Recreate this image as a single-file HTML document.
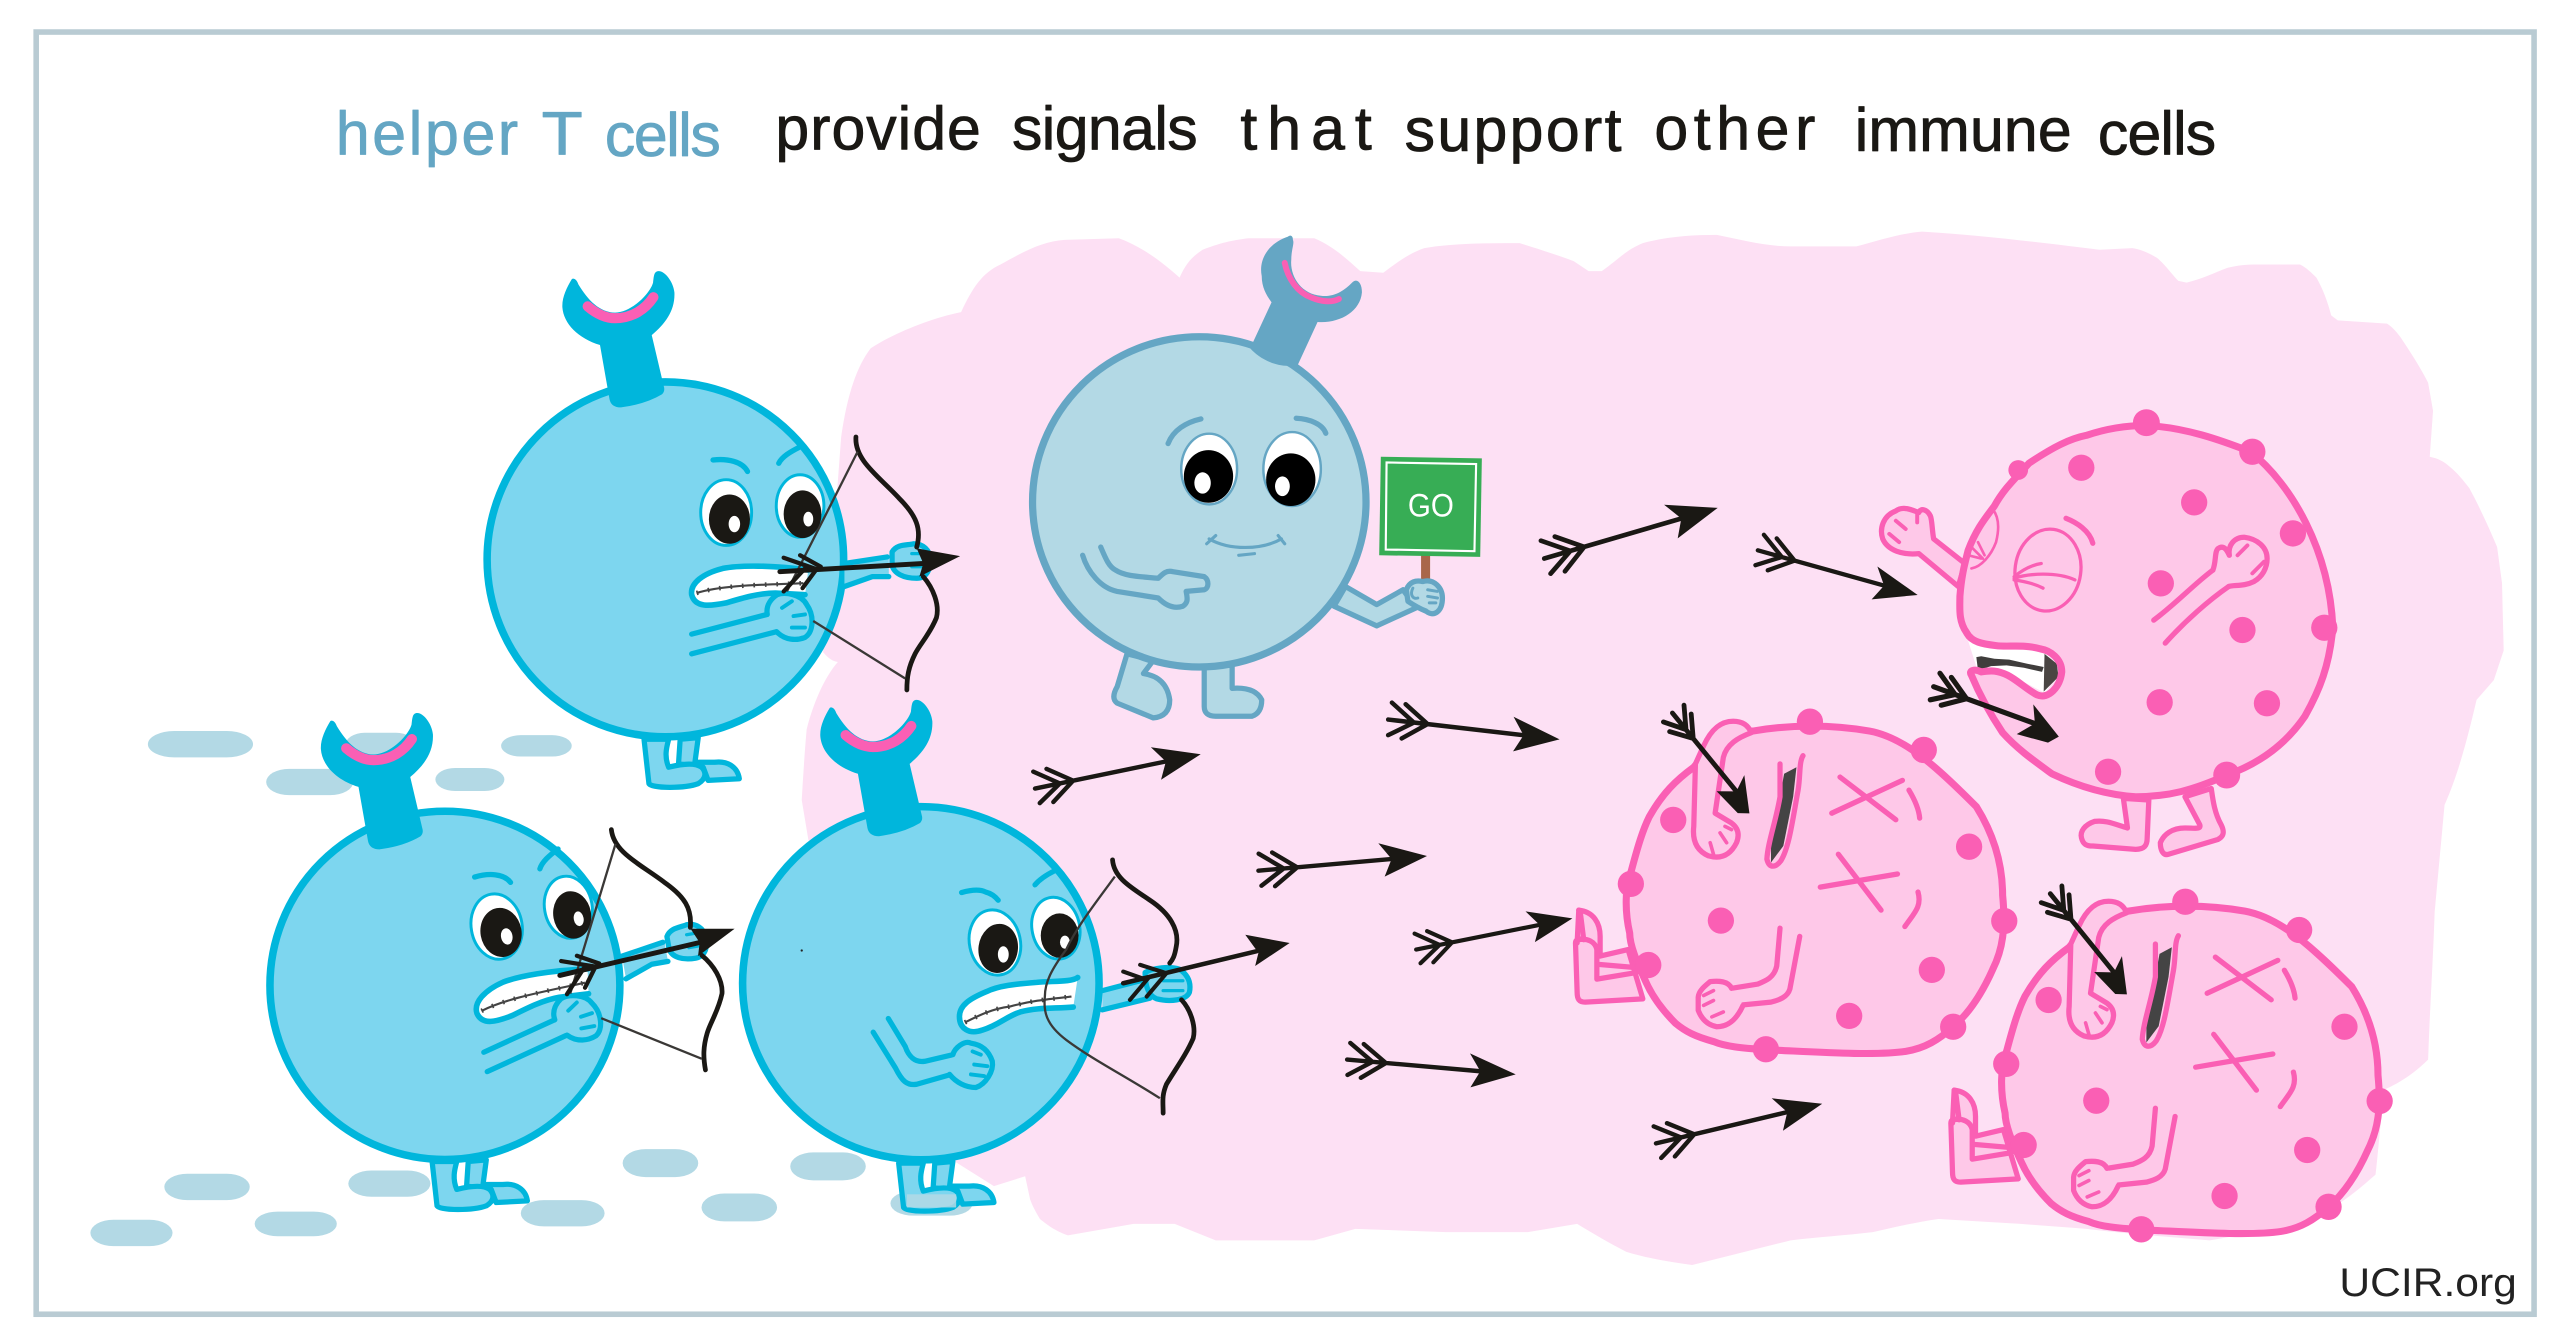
<!DOCTYPE html>
<html><head><meta charset="utf-8"><title>helper T cells</title>
<style>html,body{margin:0;padding:0;background:#fff;width:2576px;height:1337px;overflow:hidden}svg{display:block}
text{font-family:"Liberation Sans",sans-serif}
.t{font-size:37px;stroke-width:.5;stroke-linejoin:round}
.b{fill:#64a6c4;stroke:#64a6c4}.k{fill:#1a1814;stroke:#1a1814}
.c{fill:none;stroke:#00b6dc;stroke-width:3.2;stroke-linecap:round;stroke-linejoin:round}
.cf{fill:#7dd6ef;stroke:#00b6dc;stroke-width:3.2;stroke-linejoin:round;stroke-linecap:round}
.g{fill:none;stroke:#65a6c4;stroke-width:3.2;stroke-linecap:round;stroke-linejoin:round}
.gf{fill:#b3d9e5;stroke:#65a6c4;stroke-width:3.2;stroke-linejoin:round;stroke-linecap:round}
.p{fill:none;stroke:#fa5fb4;stroke-width:3.2;stroke-linecap:round;stroke-linejoin:round}
.pf{fill:#fec8e8;stroke:#fa5fb4;stroke-width:3.2;stroke-linejoin:round;stroke-linecap:round}
.pb{fill:#fec8e8;stroke:#fa5fb4;stroke-width:4.3;stroke-linejoin:round}
.bow{fill:none;stroke:#1a1814;stroke-width:2.9;stroke-linecap:round}
.str{fill:none;stroke:#3a3836;stroke-width:1.4}
.ar{fill:none;stroke:#1a1814;stroke-linecap:round}
.gm{fill:#b3d9e5}
</style></head><body>
<svg xmlns="http://www.w3.org/2000/svg" width="2576" height="1337" viewBox="0 0 1568 813.85">
<defs>
<g id="arrow">
<path class="ar" stroke-width="2.6" d="M0,0 L84,0 M1,-10 L15,0 L1,9 M9,-10 L23,0 L9,10"/>
<path fill="#1a1814" d="M100,0 L72,-10 L79,0 L74,10 Z"/>
</g>
<g id="arrow2">
<path class="ar" stroke-width="3.8" d="M0,0 L84,0 M1,-11 L17,0 L1,10 M10,-11 L26,0 L10,11"/>
<path fill="#1a1814" d="M100,3 L94,10 L70,12 L80,0 L74,-13 Z"/>
</g>
<g id="wrench">
<path fill="#00b6dc" d="M348,170 C345,175 342,181 342.300,187 C343,197 352,206 365.200,210 L371,243 Q372,248 378,248 Q393,246 403,240 Q405,238 404,235 L396.700,204 C405,197 411,189 410.500,178 C410,172 405,165 401,165 C398,165 398,168 397.500,172 C396,178 385,190 374.400,190.300 C365,190 358,183 352,173 C351,170 349,169 348,170 Z"/>
<path d="M357.700,186.500 C363,191 369,193.700 374.400,193.700 C385,193.700 393,188 397.700,180.900" fill="none" stroke="#fa5fb4" stroke-width="6.200" stroke-linecap="round"/>
</g>
<g id="legs">
<path class="cf" d="M569,708 L568,723 L583,725 L586,733 L605,732 C604,725 598,721 590,722 L578,722 L580,707 Z"/>
<path class="cf" d="M547,708 L550,735 C552,738 572,738 580,735 C585,732 585,728 582,725 C578,722 570,723 562,725 C559,718 561,712 562,708 Z"/>
</g>
<g id="face">
<path fill="#7dd6ef" d="M514,343 L541,338 L541,351 L531,351 L514,357 Z"/>
<path class="c" d="M514,343 L540,339 M514,357 L531,351 L541,351"/>
<path class="cf" d="M543,336 C546,331 552,332 556,331 C562,331 566,335 566,340 C567,346 564,352 558,352 C550,352 544,349 543,344 Z"/>
<path class="c" stroke-width="2" style="stroke-width:2" d="M555,337 h9 M555,345 h9"/>
<path class="c" d="M434,280 C443,279 452,281 455,287 M474,282 C476,278 481,275 487,272"/>
<ellipse cx="442" cy="312" rx="15.500" ry="20" fill="#fff" stroke="#00b6dc" stroke-width="1.800"/>
<ellipse cx="444" cy="316" rx="12.500" ry="15" fill="#1a1814"/>
<ellipse cx="447" cy="319" rx="3.500" ry="5" fill="#fff"/>
<ellipse cx="487" cy="308" rx="14.500" ry="19" fill="#fff" stroke="#00b6dc" stroke-width="1.800"/>
<ellipse cx="488.500" cy="313" rx="11.500" ry="14.500" fill="#1a1814"/>
<ellipse cx="492" cy="316" rx="3" ry="4.500" fill="#fff"/>
<path d="M492,347 C470,344 450,344 440,346 C428,349 420,355 421,362 C423,370 432,369 442,367 C452,364 462,361 472,361 L490,362" fill="#fff" stroke="#00b6dc" stroke-width="3.400" stroke-linecap="round"/>
<path d="M424,361 C440,356 465,356 489,355" fill="none" stroke="#444" stroke-width="1.300"/>
<path d="M424,361 C440,356 465,356 489,355" fill="none" stroke="#444" stroke-width="2.800" stroke-dasharray="1 6"/>
<path class="c" d="M421,386 L467,374 M421,398 L472.700,384.500"/>
<path class="cf" d="M467,374 C466,368 470,364 473,362 C478,360 488,362 491,368 C496,375 495,385 490,388 C485,390 478,390 472.700,384.500"/>
<path class="c" style="stroke-width:2.400" d="M476,370 l6,-4 M483,375 l7,-1 M482,382 l8,0"/>
<path class="bow" d="M521,266 C520,280 535,290 547,303 C558,314 561,322 558,333 M562,351 C568,358 572,368 570,376 C566,386 560,392 557,398 C553,406 552,412 552,420"/>
<path class="str" d="M522,275 L479,360 M495,378 L551,413"/>
<path class="ar" stroke-width="3" d="M474.700,348 L562,343"/>
<path fill="#1a1814" d="M584.400,338.500 L558,333.800 L562,343 L559.600,351 Z"/>
<path class="ar" stroke-width="2.600" d="M477,339.500 L497,346.500 L488.500,358 M487,338 L499.600,345 M490,346 L477,360"/>
</g>
<g id="deadcell">
<path class="pf" d="M961,554 C970,555 974,562 974,570 L974,582 L991,578 L1000,608 L965,610 C961,610 960,608 960,604 L959,574 C959,572 961,571 964,572 L962,556 Z"/>
<path class="p" d="M961,572 C966,571 971,573 972,578 L972,596 L996,592 M973,587 L996,589 M960,574 L961,554"/>
<path class="pb" d="M1067,445 C1090,441 1115,441 1138,445 C1160,449 1180,468 1203,491 C1213,507 1219,525 1219,545 C1221,565 1219,578 1213,590 C1205,608 1197,618 1189,625 C1180,633 1172,638 1160,640 C1140,643 1100,640 1075,639 C1060,638 1050,637 1043,634 C1032,631 1026,628 1020,623 C1012,615 1006,607 1002,598 C996,585 992,575 992,568 C989,555 989,540 993,530 C997,515 1000,505 1004,497 C1012,483 1020,475 1031,467 L1050,445 Z"/>
<path class="pf" d="M1032,465 L1031,503 C1030,512 1033,518 1040,521 C1047,523 1053,521 1057,513 C1059,508 1058,504 1054,501 L1044,495 L1049,461 C1051,453 1058,449 1066,446 C1064,441 1060,439 1055,439 C1048,439 1042,443 1037,454 Z" />
<path class="p" style="stroke-width:2.200" d="M1041,513 l2,7 M1047,507 l4,6 M1050,503 l4,2"/>
<path d="M1083,465 L1083,485 L1075,523 L1079,528 L1088,515 L1095,481 L1098,460 C1095,461 1094,466 1093,467 Z" fill="#fec8e8"/>
<path d="M1086,471 L1093.500,467 L1091.500,485 L1085.500,515 L1078,525 L1078,515 Z" fill="#444"/>
<path class="p" d="M1083.500,465 L1083.500,485 C1081,500 1076,513 1075.500,523 C1077,529 1081,528 1084,524 C1089,516 1091,500 1094.500,481 C1096,472 1095,464 1097.500,460"/>
<path class="p" d="M1120,473 L1154,499 M1115,495 L1158,475 M1162,481 C1165,486 1168,492 1168.500,498 M1119,520 L1145,554 M1108,540 L1155,532 M1167.500,543 C1170,552 1165,556 1159.500,564"/>
<path class="p" d="M1083.500,565 L1081.500,588 C1080,595 1075,597 1070,599 L1054,601.600 M1095.500,570 L1089.500,602 C1088,607 1083,608.700 1078,610 L1061,611.700"/>
<path class="pf" d="M1054,601.600 C1052,597 1046,597 1041,597.500 C1038,600 1034,603 1033.700,607 L1033.700,615 C1036,621 1040,624 1045,625 C1050,625 1056,623 1061,612"/>
<path class="p" style="stroke-width:2.200" d="M1037,606 l6,-3 M1037,612 l6,-3 M1042,619 l7,-3"/>
<g fill="#fa5fb4">
<circle cx="1101.700" cy="439.300" r="8"/><circle cx="1171" cy="456.500" r="8"/><circle cx="1220" cy="560.600" r="8"/><circle cx="1188.900" cy="625" r="8"/><circle cx="1074.900" cy="638.700" r="8"/><circle cx="1003.300" cy="587.400" r="8"/><circle cx="992.700" cy="538" r="8"/>
<circle cx="1018.500" cy="499.100" r="8"/><circle cx="1198.600" cy="515.400" r="8"/><circle cx="1175.900" cy="590.400" r="8"/><circle cx="1125.600" cy="618.400" r="8"/><circle cx="1047.500" cy="560.400" r="8"/>
</g>
</g>
</defs>

<rect x="0" y="0" width="1568" height="814" fill="#fff"/>
<rect x="22" y="19.500" width="1520.500" height="780.500" fill="#fff" stroke="#b9cbd3" stroke-width="3.400"/>

<text class="t b" x="204.400" y="94" textLength="111" lengthAdjust="spacing">helper</text>
<text class="t b" x="329.700" y="94" textLength="25" lengthAdjust="spacingAndGlyphs">T</text>
<text class="t b" x="368.200" y="95" textLength="70.500" lengthAdjust="spacing">cells</text>
<text class="t k" x="472" y="91" textLength="125" lengthAdjust="spacing">provide</text>
<text class="t k" x="616" y="91" textLength="113" lengthAdjust="spacing">signals</text>
<text class="t k" x="755" y="91" textLength="80" lengthAdjust="spacing">that</text>
<text class="t k" x="855" y="92" textLength="132" lengthAdjust="spacing">support</text>
<text class="t k" x="1007" y="91" textLength="98" lengthAdjust="spacing">other</text>
<text class="t k" x="1129" y="92" textLength="132" lengthAdjust="spacing">immune</text>
<text class="t k" x="1277" y="94" textLength="72" lengthAdjust="spacing">cells</text>

<!-- puddles -->
<g class="gm">
<rect x="90" y="445" width="64" height="16" rx="16" ry="8"/><rect x="162" y="468" width="53" height="16" rx="14" ry="8"/><rect x="210" y="446" width="43" height="16" rx="12" ry="8"/><rect x="265" y="467.500" width="42" height="14" rx="12" ry="7"/><rect x="305" y="447.500" width="43" height="13" rx="12" ry="6.500"/>
<rect x="100" y="714.500" width="52" height="16" rx="14" ry="8"/><rect x="212" y="712.500" width="50" height="16" rx="14" ry="8"/><rect x="317" y="730.500" width="51" height="16" rx="14" ry="8"/><rect x="379" y="699.500" width="46" height="17" rx="14" ry="8.500"/><rect x="427" y="726.500" width="46" height="17" rx="14" ry="8.500"/><rect x="481" y="701.500" width="46" height="17" rx="14" ry="8.500"/><rect x="55" y="742.500" width="50" height="16" rx="14" ry="8"/><rect x="155" y="737.500" width="50" height="15" rx="14" ry="7.500"/><rect x="542" y="725" width="50" height="15" rx="14" ry="7.500"/>
</g>

<!-- pink background -->
<path fill="#fde0f4" d="M585,190 C592,175 598,166 609,161 C625,152 635,147 648,146 L681,145 C695,150 708,160 718,169 C722,160 726,156 732,152 C745,147 752,146 760,145 L800,145 C812,150 820,158 828,165 L842,166 C850,160 858,154 867,151 C885,148 905,148 925,148 C938,152 950,156 958,159 L967,165 L975,165 C985,158 990,152 1000,148 C1015,144 1030,143 1045,143 C1060,146 1075,150 1090,150 L1130,150 C1145,146 1157,142 1170,141 C1205,143 1245,148 1278,152 L1298,151 C1304,152 1308,154 1313,157 C1318,161 1322,167 1326,171 L1331,172 C1340,170 1348,166 1356,163 C1364,161 1370,161 1378,161 L1400,161 C1404,163 1407,166 1410,169 C1414,176 1417,184 1419,192 L1423,195 L1453,197 C1456,199 1458,201 1461,205 C1467,214 1473,223 1478,233 L1481,250 L1479,278 C1484,279 1488,281 1491,284 C1496,288 1499,292 1503,297 C1509,308 1515,321 1520,333 L1523,355 L1524,396 C1522,402 1520,408 1518,414 L1507.500,426 C1503,445 1497,470 1488,490 C1486,512 1484,533 1482,555 C1481,585 1479,615 1478,645 C1470,653 1461,659 1452,663 C1449,680 1448,698 1446,715 C1438,722 1430,729 1420,735 C1395,745 1370,751 1345,755 C1320,753 1295,751 1270,748 C1256,747 1243,746 1230,745 L1180,742 C1166,744 1153,747 1140,750 C1123,752 1107,753 1090,755 C1070,760 1050,765 1030,770 C1016,768 1003,766 990,762 C980,757 970,751 960,745 L930,750 L880,750 L825,748 L800,755 L740,755 L715,745 L690,745 L650,752 C642,749 638,746 633,742 C630,737 628,733 627,730 L624,716 L605,722 L570,700 L492,511 L488,487 C489,470 490,455 491,444 C495,428 502,412 510,403 C505,402 503,399 501,397 L505,360 L512,266 C515,245 520,225 530,212 C542,204 565,194 585,190 Z"/>

<!-- cell 1 -->
<use href="#legs" transform="translate(-155,-258)"/>
<ellipse class="cf" cx="405" cy="340.500" rx="108.500" ry="108" style="stroke-width:4.600"/>
<use href="#wrench"/>
<use href="#face"/>

<!-- grey helper cell -->
<path class="gf" d="M686,398 L680,418 Q676,425 680,428 L702,437 Q712,436 712,426 Q710,412 696,410 L702,402 Z"/>
<path class="gf" d="M733,405 L733,430 Q733,436 740,436 L762,436 Q768,434 768,426 Q764,418 750,419 L750,405 Z"/>
<path class="gf" d="M819,357 L838,368 L854,359 L862,370 L838,381 L812,369 Z"/>
<ellipse class="gf" cx="730" cy="305.500" rx="101.500" ry="100.500" style="stroke-width:4.400"/>
<path fill="#65a6c4" d="M784,144 C772,148 766,158 768,168 C768,175 771,180 774,184 L761,212 C766,218 778,225 790,222 L802,196 C815,197 828,190 829,178 C829,172 826,169 823,172 C818,177 812,181 804,180 C792,179 785,168 786,158 C786,152 788,148 787,146 C787,143 785,143 784,144Z"/>
<path d="M782,160 C784,170 790,178 798,181 C805,184 811,184 815,182" fill="none" stroke="#fa5fb4" stroke-width="3.600" stroke-linecap="round"/>
<path class="g" d="M711,270 C714,262 722,257 731,255 M789,254.600 C797,255 805,258 807,263.700"/>
<ellipse cx="736" cy="285.500" rx="17" ry="21.500" fill="#fff" stroke="#65a6c4" stroke-width="1.500"/>
<ellipse cx="786.500" cy="285.500" rx="17.500" ry="22.500" fill="#fff" stroke="#65a6c4" stroke-width="1.500"/>
<ellipse cx="735.600" cy="290" rx="15" ry="16" fill="#000"/>
<ellipse cx="785.700" cy="292" rx="15" ry="16" fill="#000"/>
<ellipse cx="732" cy="294" rx="5" ry="6.500" fill="#fff"/>
<ellipse cx="780.600" cy="296" rx="4.500" ry="6" fill="#fff"/>
<path class="g" style="stroke-width:1.900" d="M734.500,331 L740,326 M736,328 C748,335 768,335 780,328 M778,326 L782,331 M754,338 L763.600,337"/>
<path class="g" d="M670,333 C673,340 675,345 679,347 C685,351 695,351 705,352 C708,349 710,347 714,348 L733,351 C736,353 736,358 733,359 L722,360 C723,365 723,367 720,369 C714,371 709,368 705,364 L680,360 C670,358 662,348 659,338"/>
<rect x="865" y="335" width="5.500" height="38" rx="2.500" fill="#a9674a"/>
<path class="gf" d="M856,359 C858,354 862,353 866,354 C873,352 878,358 878,364 C878,372 873,376 868,372 C863,370 860,368 857,366 Z"/>
<path class="g" style="stroke-width:1.800" d="M869,359 l6,1 M869,363 l6,1 M870,367 l4,0 M860,358 C858,362 860,365 863,364"/>
<path fill="#37ad55" d="M840.500,278 L902,279 L901,339 L839.500,338 Z"/>
<path d="M844,281.500 L898.500,282.500 L897.500,335.500 L843.500,334.500 Z" fill="none" stroke="#fff" stroke-width="1.300"/>
<text x="857" y="314.500" font-size="20" fill="#fff" textLength="28" lengthAdjust="spacingAndGlyphs">GO</text>

<!-- cell 2 -->
<use href="#legs" transform="translate(-284,-1)"/>
<ellipse class="cf" cx="270.800" cy="599.800" rx="106.500" ry="106" style="stroke-width:4.600"/>
<use href="#wrench" transform="translate(-147,269)"/>
<use href="#face" transform="translate(340,593.500) rotate(-10) translate(-474,-347.600)"/>

<!-- cell 3 -->
<use href="#legs"/>
<rect x="552" y="727" width="30" height="8" fill="#b3d9e5" opacity=".85"/>
<path fill="#7dd6ef" d="M671,603 L696,596.500 L700,607.600 L671,614.700 Z"/>
<path class="c" d="M671,603 L696,596.500 M671,614.700 L700,607.600"/>
<ellipse class="cf" cx="560.500" cy="598.500" rx="108.500" ry="107.500" style="stroke-width:4.600"/>
<circle cx="488" cy="578.600" r=".7" fill="#222"/>
<use href="#wrench" transform="translate(157,261)"/>
<path class="c" d="M585.300,543.300 C590,542 596,541 600,543 C604,544 606,546 607.600,548 M630,538.600 C633,535 638,532 642,530"/>
<ellipse cx="605.600" cy="573.700" rx="15.500" ry="20" fill="#fff" stroke="#00b6dc" stroke-width="1.800" transform="rotate(-12 605.600 573.700)"/>
<ellipse cx="607.600" cy="577.300" rx="12" ry="15" fill="#1a1814" transform="rotate(8 607.600 577.300)"/>
<ellipse cx="610.700" cy="581" rx="3.300" ry="5" fill="#fff"/>
<ellipse cx="642.700" cy="565" rx="14.500" ry="19" fill="#fff" stroke="#00b6dc" stroke-width="1.800" transform="rotate(-12 642.700 565)"/>
<ellipse cx="645" cy="569.500" rx="11.500" ry="13.500" fill="#1a1814"/>
<ellipse cx="648.200" cy="573.500" rx="3" ry="4" fill="#fff"/>
<path d="M656,595 C652,598 640,597 631,598 C618,599 608,600 600.500,603.600 C590,608 584,612 584,618.800 C584,626 590,630 598,627 C608,624 612,619 621,616 C632,613 642,614 653.300,613" fill="#fff" stroke="#00b6dc" stroke-width="3.400" stroke-linecap="round"/>
<path d="M587.300,622.400 C596,618 604,614 614.700,612.700 C628,609 640,608 652.200,606.600" fill="none" stroke="#444" stroke-width="1.300"/>
<path d="M587.300,622.400 C596,618 604,614 614.700,612.700 C628,609 640,608 652.200,606.600" fill="none" stroke="#444" stroke-width="2.800" stroke-dasharray="1 6"/>
<path class="c" d="M540.700,620 L551,637 C553,643 557,647 563,646 L580,642 M531.500,628.300 L545,650 C549,658 552,661 558,660 L578,654.300"/>
<path class="cf" d="M580,642 C581,638 587,633 591,635 C598,636 602,640 604,646 C605,652 600,660 594,662 C588,662 582,659 578,654"/>
<path class="c" style="stroke-width:2.400" d="M592,640 l5,2 M593,648 l8,1 M591,654 l8,1"/>
<path class="cf" d="M697,592 C702,589 712,588 718,590 C724,594 725,599 724,604 C722,609 712,610 704,608 C699,606 697,600 697,592 Z"/>
<path class="c" style="stroke-width:2" d="M708,597 h12 M708,603 h12"/>
<path class="bow" d="M677.200,523.400 C678,535 690,541 700,548 C712,556 718,566 716,576 C715,582 714,584 712,586.300 M719.200,608.600 C725,615 728,625 726.300,632 C722,642 716,650 710,660 C707,667 708,671 708,677.600"/>
<path class="str" d="M678.600,533.600 C665,552 655,565 649,578 C640,590 636,598 636,606.600 C635,616 637,624 649,633 C665,645 685,655 706,668.500"/>
<path class="ar" stroke-width="2.800" d="M683.700,598.500 L765,579"/>
<path fill="#1a1814" d="M785,574 L758,569 L766,580 L764,588 Z"/>
<path class="ar" stroke-width="2.500" d="M683.700,591.400 L698,596.500 L687.800,608.600 M694,587.300 L710,592.400 L698,606.600"/>

<!-- flying arrows -->
<use href="#arrow" transform="translate(630,480) rotate(-11.700) scale(1.030)"/>
<use href="#arrow" transform="translate(766,530) rotate(-5) scale(1.030)"/>
<use href="#arrow" transform="translate(845,438) rotate(6.600) scale(1.050)"/>
<use href="#arrow" transform="translate(940,340) rotate(-16.300) scale(1.100)"/>
<use href="#arrow" transform="translate(1070,335) rotate(15.600) scale(1.010)"/>
<use href="#arrow" transform="translate(862,578) rotate(-11.300) scale(.97)"/>
<use href="#arrow" transform="translate(820,645) rotate(5) scale(1.030)"/>
<use href="#arrow" transform="translate(1008,696) rotate(-13.400) scale(1.040)"/>

<!-- pink cell A -->
<path fill="#fff" d="M1198,390 L1245,396 L1253,408 L1245,422 L1224,411 L1204,409 Z"/>
<path fill="#3f3d3c" d="M1203,400 L1206,399.500 L1214,401 L1223,401.500 L1234,404 L1244,406 L1243,409 L1232,406.500 L1221.400,405 L1212,405.500 L1204,408 Z"/>
<path fill="#4a4543" d="M1244.500,398 L1252,404 L1253,412 L1244,421 Z"/>
<path class="pf" d="M1292.500,486 L1295,504 C1288,502 1282,499 1275,500 C1269,502 1266,506 1267,510 C1268,514 1270,515 1274,515 L1300,517 C1305,517 1307,515 1307,510 L1308,487 Z"/>
<path class="pf" d="M1330,485 L1339,502 C1340,505 1336,504 1330,504 C1322,504 1317,508 1315,513 C1315,518 1317,521 1320,520 L1350,511 C1354,509 1354,506 1352,502 C1348,495 1347,487 1346,480 Z"/>
<path class="pf" d="M1196,343 L1177,328 C1176,322 1176,316 1175,314 C1173,310 1169,309 1168,312 C1163,310 1158,308 1154,311 C1146,314 1144,322 1146,328 C1149,335 1158,338 1168,337 L1192,357 Z"/>
<path class="p" style="stroke-width:2.400" d="M1154,317 l6,5 M1150,325 l6,5 M1167,312 l0,6"/>
<path class="pb" d="M1306,259 C1330,260 1352,268 1370,275 C1395,295 1418,335 1420,382 C1418,405 1412,420 1403,436 C1390,455 1372,466 1355,472 C1335,481 1320,485 1300,485 C1285,484 1268,480 1249,471 C1238,463 1228,456 1219,446 C1211,434 1205,423 1200,411 C1198,408 1202,407 1206,409 C1212,408 1216,408 1222,411 C1228,414 1234,420 1240,423 C1247,426 1254,418 1255,409 C1255,401 1248,396 1242,395 C1232,392 1222,394 1215,393 C1207,392 1200,391 1197,385 C1192,378 1193,370 1193,363 C1194,350 1196,343 1198,335 C1203,322 1208,316 1214,308 C1220,297 1228,290 1235,282 C1250,272 1260,267 1270,265 C1282,261 1295,259 1306,259 Z"/>
<path class="p" style="stroke-width:1.600" d="M1213,310 C1217,315 1217,322 1215,330 C1212,338 1206,345 1200,346 M1198,338 l8,2 M1200,333 l7,7 M1204,330 l4,8"/>
<ellipse cx="1246.600" cy="347" rx="20" ry="25" fill="none" stroke="#fa5fb4" stroke-width="2" transform="rotate(8 1246.600 347)"/>
<path class="p" style="stroke-width:2" d="M1226,352 C1235,349 1252,348 1263,353 M1226,351 C1231,347 1236,344 1242.500,343 M1226,353 C1232,354 1238,355 1243.600,358"/>
<path class="p" d="M1257.600,315.500 C1264,318 1272,323 1273.900,330.700"/>
<path class="p" d="M1311,377.500 C1325,367 1335,356 1347,347 M1318,391.500 C1330,378 1345,365 1356.600,357"/>
<path class="p" d="M1347,347 C1349,342 1348,336 1350,334 C1354,331 1356,336 1357,338 C1356,332 1360,327 1366,327 C1374,328 1380,333 1380,340 C1380,346 1377,351 1372,354 C1366,357 1360,356 1356.600,357"/>
<path class="p" style="stroke-width:2.400" d="M1362,338 l6,-6 M1371,349 l7,-7"/>
<g fill="#fa5fb4">
<circle cx="1306.500" cy="257.300" r="8.200"/><circle cx="1371" cy="275" r="8"/><circle cx="1414.800" cy="382.100" r="8"/><circle cx="1355.400" cy="471.800" r="8.200"/><circle cx="1228.500" cy="286.100" r="6"/>
<circle cx="1266.900" cy="284.700" r="8"/><circle cx="1335.600" cy="305.800" r="8"/><circle cx="1395.700" cy="324.700" r="8"/><circle cx="1315.300" cy="355.100" r="8"/><circle cx="1365" cy="383.500" r="8"/><circle cx="1314.600" cy="427.500" r="8"/><circle cx="1379.900" cy="428.100" r="8"/><circle cx="1283.200" cy="469.800" r="8"/>
</g>
<use href="#arrow2" transform="translate(1177,418) rotate(20) scale(.82)"/>

<!-- pink cell B and C -->
<use href="#deadcell"/>
<use href="#arrow2" transform="translate(1018,434) rotate(50.800) scale(.77)"/>
<use href="#deadcell" transform="translate(228.500,109.600)"/>
<use href="#arrow2" transform="translate(1248,544) rotate(51) scale(.77)"/>

<text x="1424" y="789" font-size="24" fill="#222" textLength="108" lengthAdjust="spacingAndGlyphs">UCIR.org</text>
</svg>
</body></html>
